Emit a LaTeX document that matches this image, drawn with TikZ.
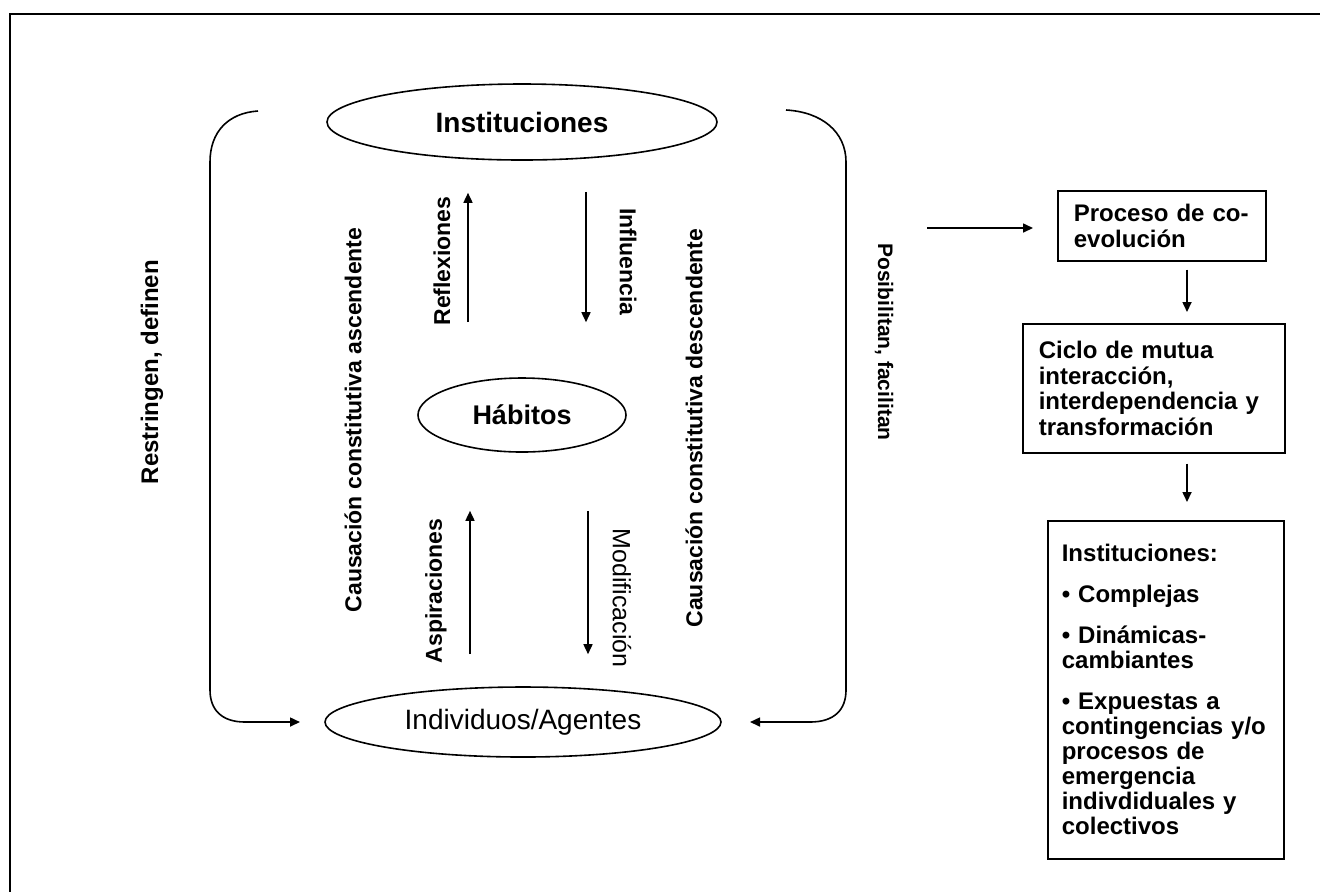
\documentclass[tikz,border=0pt]{standalone}
\usepackage{fontspec}
\setmainfont{Liberation Sans}
\usetikzlibrary{arrows.meta,positioning,shapes.geometric}
\tikzset{
  elip/.style={draw,ellipse,line width=0.8pt,inner sep=0pt,font=\fontsize{14}{16}\selectfont},
  arr/.style={-{Triangle[length=5pt,width=4.5pt]},line width=0.8pt},
  lbl/.style={font=\bfseries\fontsize{11.5}{13}\selectfont,inner sep=0pt},
  box/.style={draw,line width=0.8pt,align=left,inner ysep=2pt,anchor=north west,
              font=\bfseries\fontsize{12}{12.75}\selectfont},
}
\begin{document}
\begin{tikzpicture}[x=0.5pt,y=-0.5pt]
\useasboundingbox (0,0) rectangle (1320,891);
% frame
\draw[line width=1.3pt] (10,900) -- (10,14) -- (1330,14);
% ellipses
\node[elip,font=\bfseries\fontsize{14}{16}\selectfont,minimum width=195pt,minimum height=38pt] (inst) at (522,122) {Instituciones};
\node[elip,font=\bfseries\fontsize{13.5}{15}\selectfont,minimum width=104pt,minimum height=37pt] (hab) at (522,415) {Hábitos};
\node[elip,minimum width=198pt,minimum height=35pt] (ind) at (523,722) {Individuos/Agentes};
% inner arrows
\coordinate (refx) at (468,0);
\coordinate (infx) at (586,0);
\coordinate (aspx) at (470,0);
\coordinate (modx) at (588,0);
\draw[arr,shorten <=27.5pt,shorten >=16pt] (hab.north -| refx) -- (inst.south -| refx);
\draw[arr,shorten <=15.5pt,shorten >=27.5pt] (inst.south -| infx) -- (hab.north -| infx);
\draw[arr,shorten <=16pt,shorten >=29pt] (ind.north -| aspx) -- (hab.south -| aspx);
\draw[arr,shorten <=29pt,shorten >=16pt] (hab.south -| modx) -- (ind.north -| modx);
% labels
\node[lbl,rotate=90] (trefl) at (442,261) {Reflexiones};
\node[lbl,rotate=-90] (tinfl) at (628,262) {Influencia};
\node[lbl,rotate=90] (tasp) at (436,591) {Aspiraciones};
\node[lbl,rotate=-90,font=\fontsize{12.5}{14}\selectfont] (tmod) at (622,598) {Modificación};
\node[lbl,rotate=90] (tasc) at (353,420) {Causación constitutiva ascendente};
\node[lbl,rotate=90] (tdesc) at (694,428) {Causación constitutiva descendente};
\node[lbl,rotate=90,font=\bfseries\fontsize{12}{14}\selectfont] (trest) at (152,372) {Restringen, definen};
\node[lbl,rotate=-90,font=\bfseries\fontsize{10.5}{12}\selectfont] (tposi) at (884,342) {Posibilitan, facilitan};
% side brackets
\coordinate (lt) at (258,111);
\coordinate (lb) at (300,722);
\coordinate (rt) at (786,110);
\coordinate (rb) at (750,722);
\draw[arr] (lt) .. controls (228,113) and (210,132) .. (210,162) -- (210,690)
  .. controls (210,710) and (222,722) .. (245,722) -- (lb);
\draw[arr] (rt) .. controls (822,112) and (846,132) .. (846,162) -- (846,690)
  .. controls (846,710) and (834,722) .. (810,722) -- (rb);
% right column
\node[box,inner xsep=8pt,text width=88pt,minimum height=35pt] (proc) at (1057,190) {Proceso de co-\\evolución};
\node[box,inner xsep=8pt,text width=115pt,minimum height=64.5pt] (ciclo) at (1022,323)
  {Ciclo de mutua\\interacción,\\interdependencia y\\transformación};
\node[box,inner xsep=7pt,text width=104pt,minimum height=169pt,font=\bfseries\fontsize{12}{12.5}\selectfont] (inst2) at (1047,520)
  {Instituciones:\\[8pt]• Complejas\\[8pt]• Dinámicas-\\cambiantes\\[8pt]• Expuestas a\\contingencias y/o\\procesos de\\emergencia\\indivdiduales y\\colectivos};
\coordinate (coev) at (927,228);
\coordinate (colx) at (1187,0);
\draw[arr,shorten >=12pt] (coev) -- (coev -| proc.west);
\draw[arr,shorten <=4pt,shorten >=5.5pt] (proc.south -| colx) -- (ciclo.north -| colx);
\draw[arr,shorten <=5pt,shorten >=9pt] (ciclo.south -| colx) -- (inst2.north -| colx);
\end{tikzpicture}
\end{document}
